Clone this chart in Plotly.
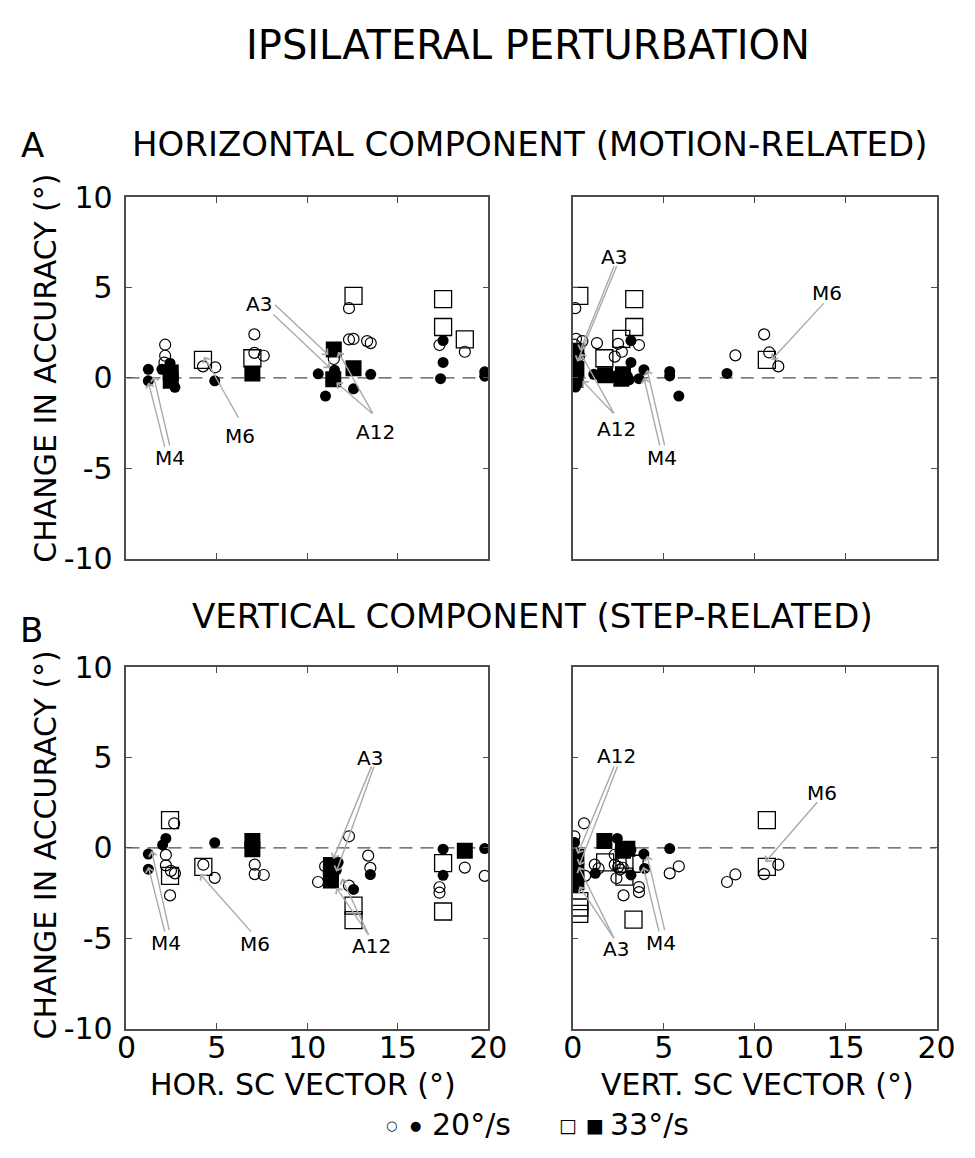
import plotly.graph_objects as go

FONT = "DejaVu Sans, Liberation Sans, Noto Sans, sans-serif"
W, H = 975, 1158

# ---------------- data ----------------
# Panel A, horizontal SC vector (left)
AH_oc_x = [2.14, 2.14, 2.1, 4.23, 4.91, 7.07, 7.07, 7.59, 11.46, 12.3, 12.3, 12.55, 13.3, 13.5, 17.3, 18.7]
AH_oc_y = [1.84, 1.23, 0.85, 0.64, 0.59, 2.41, 1.39, 1.23, 1.05, 3.86, 2.13, 2.16, 2.04, 1.93, 1.82, 1.45]
AH_fc_x = [1.21, 1.21, 1.96, 2.41, 2.23, 2.5, 2.32, 2.68, 4.88, 10.6, 11.0, 11.5, 12.55, 13.5, 17.5, 17.5, 17.36, 19.8, 19.8]
AH_fc_y = [0.48, -0.16, 0.48, 0.82, 0.38, 0.2, -0.07, -0.52, -0.16, 0.23, -1.0, 0.43, -0.6, 0.2, 2.07, 0.86, -0.04, 0.34, 0.1]
AH_os_x = [4.23, 6.96, 12.55, 17.5, 17.5, 18.7]
AH_os_y = [1.0, 1.09, 4.54, 4.36, 2.82, 2.14]
AH_fs_x = [2.45, 2.45, 6.96, 11.46, 12.55, 11.43]
AH_fs_y = [0.3, -0.15, 0.25, 1.57, 0.54, -0.07]

# Panel A, vertical SC vector (right)
AV_oc_x = [0.14, 0.18, 0.53, 1.33, 2.49, 2.7, 2.31, 3.64, 10.52, 10.8, 8.94, 11.3, 0.1, 0.35]
AV_oc_y = [3.86, 2.16, 2.04, 1.93, 1.89, 1.45, 1.18, 1.82, 2.41, 1.41, 1.25, 0.64, 1.84, 1.23]
AV_fc_x = [3.2, 3.2, 3.91, 3.64, 5.33, 5.33, 5.83, 8.48, 1.16, 1.5, 2.1, 2.4, 3.0, 3.1,
           0.1, 0.1, 0.2, 0.1, 0.3, 0.15]
AV_fc_y = [2.07, 0.86, 0.46, -0.04, 0.36, 0.11, -1.0, 0.25, 0.2, 0.15, 0.1, 0.0, 0.1, -0.1,
           1.5, 0.9, 0.5, 0.1, -0.2, -0.5]
AV_os_x = [0.36, 3.38, 3.38, 2.67, 1.74, 10.67]
AV_os_y = [4.54, 4.36, 2.82, 2.16, 1.09, 1.0]
AV_fs_x = [0.2, 0.2, 1.78, 2.67, 2.76, 0.15]
AV_fs_y = [1.5, 0.5, 0.15, -0.05, 0.2, -0.1]

# Panel B, horizontal SC vector (left)
BH_oc_x = [2.64, 2.18, 2.18, 2.46, 2.68, 2.41, 4.25, 4.88, 7.09, 7.09, 7.59, 12.3, 10.98, 10.59, 12.3, 13.36, 13.48, 18.7, 19.8, 17.3, 17.3]
BH_oc_y = [1.36, -0.39, -0.97, -1.27, -1.41, -2.63, -0.93, -1.66, -0.93, -1.45, -1.5, 0.64, -1.02, -1.89, -2.09, -0.43, -1.11, -1.09, -1.55, -2.18, -2.48]
BH_fc_x = [1.21, 1.21, 2.0, 2.18, 4.88, 17.5, 17.5, 19.8, 13.48, 12.55, 11.43, 11.43, 11.6, 11.7]
BH_fc_y = [-0.34, -1.18, 0.16, 0.52, 0.29, -0.07, -1.52, -0.04, -1.48, -2.3, -0.88, -1.77, -1.23, -0.8]
BH_os_x = [2.41, 2.41, 4.25, 12.55, 12.55, 17.5, 17.5]
BH_os_y = [1.54, -1.55, -1.05, -3.2, -4.0, -0.84, -3.52]
BH_fs_x = [6.96, 6.96, 11.3, 11.3, 11.3, 18.7]
BH_fs_y = [0.38, -0.07, -0.95, -1.4, -1.8, -0.16]

# Panel B, vertical SC vector (right)
BV_oc_x = [0.62, 0.09, 1.21, 1.42, 0.68, 2.31, 2.31, 2.5, 2.75, 2.6, 2.4, 2.79, 3.64, 3.64, 5.33, 5.83, 8.48, 8.94, 10.52, 11.3]
BV_oc_y = [1.36, 0.64, -0.93, -1.14, -1.55, -0.38, -0.93, -1.05, -1.1, -1.2, -1.68, -2.63, -2.17, -2.45, -1.41, -1.02, -1.89, -1.47, -1.45, -0.93]
BV_fc_x = [2.45, 3.2, 3.91, 3.95, 5.33, 1.24, 3.2, 2.9, 0.1, 0.2, 0.1, 0.3, 0.15, 0.2, 3.0, 2.6]
BV_fc_y = [0.52, -0.1, -0.34, -1.14, -0.04, -1.41, -1.5, -0.1, 0.3, -0.3, -0.9, -1.3, -1.8, -2.2, 0.0, -0.2]
BV_os_x = [10.67, 10.67, 1.78, 2.84, 3.4, 2.84, 3.34, 0.36, 0.36, 0.36]
BV_os_y = [1.54, -1.05, -0.8, -0.88, -0.88, -1.59, -3.97, -2.95, -3.3, -3.65]
BV_fs_x = [1.74, 2.76, 0.2, 0.2, 0.2, 3.0]
BV_fs_y = [0.38, -0.16, -0.5, -1.2, -1.9, -0.05]

# Subject labels: (panel, text, x, y)
LABELS = [
    ("AH", "A3", 7.3, 4.1), ("AH", "A12", 13.75, -3.0), ("AH", "M4", 2.41, -4.45), ("AH", "M6", 6.29, -3.2),
    ("AV", "A3", 2.28, 6.7), ("AV", "A12", 2.4, -2.83), ("AV", "M4", 4.9, -4.44), ("AV", "M6", 14.0, 4.7),
    ("BH", "A3", 13.45, 5.0), ("BH", "A12", 13.55, -5.43), ("BH", "M4", 2.18, -5.25), ("BH", "M6", 7.1, -5.3),
    ("BV", "A12", 2.4, 5.06), ("BV", "A3", 2.4, -5.6), ("BV", "M4", 4.84, -5.25), ("BV", "M6", 13.7, 3.06),
]
# Arrows: (panel, tail_x, tail_y, head_x, head_y)
ARROWS = [
    ("AH", 8.13, 4.13, 11.16, 1.27), ("AH", 8.04, 3.59, 11.25, 0.55),
    ("AH", 13.66, -2.04, 11.7, 1.45), ("AH", 13.66, -2.04, 11.6, -0.25),
    ("AH", 2.14, -3.9, 1.22, -0.25), ("AH", 2.41, -3.82, 1.5, 0.1),
    ("AH", 6.25, -2.3, 4.29, 1.18),
    ("AV", 2.31, 6.27, 0.4, 1.5), ("AV", 2.45, 6.27, 0.25, 0.9),
    ("AV", 2.31, -2.04, 0.44, 1.36), ("AV", 2.31, -2.04, 0.53, -0.16),
    ("AV", 4.8, -3.82, 3.91, 0.02), ("AV", 5.07, -3.82, 4.09, 0.46),
    ("AV", 13.87, 4.21, 10.93, 1.0),
    ("BH", 13.57, 4.58, 11.43, -0.61), ("BH", 13.71, 4.58, 11.6, -1.32),
    ("BH", 13.43, -4.9, 11.6, -2.2), ("BH", 13.43, -4.9, 11.9, -1.7),
    ("BH", 2.14, -4.72, 1.21, -1.05), ("BH", 2.38, -4.63, 1.39, -0.16),
    ("BH", 6.96, -4.72, 4.07, -1.45),
    ("BV", 2.31, 4.58, 0.27, -0.34), ("BV", 2.49, 4.58, 0.36, -0.97),
    ("BV", 2.31, -5.08, 0.36, -2.13), ("BV", 2.31, -5.08, 0.32, -1.05),
    ("BV", 4.76, -4.72, 3.88, -1.05), ("BV", 5.07, -4.63, 4.09, -0.43),
    ("BV", 13.51, 2.61, 10.58, -0.79),
]

X_TICKS = [0, 5, 10, 15, 20]
X_TICKTEXT = ["0", "5", "10", "15", "20"]
Y_TICKS = [-10, -5, 0, 5, 10]
Y_TICKTEXT = ["-10", "-5", "0", "5", "10"]
ZERO_X = [0, 20]
ZERO_Y = [0, 0]

# ---------------- figure ----------------
AX = {"AH": ("x", "y"), "AV": ("x2", "y2"), "BH": ("x3", "y3"), "BV": ("x4", "y4")}
DATA = {
    "AH": (AH_oc_x, AH_oc_y, AH_fc_x, AH_fc_y, AH_os_x, AH_os_y, AH_fs_x, AH_fs_y),
    "AV": (AV_oc_x, AV_oc_y, AV_fc_x, AV_fc_y, AV_os_x, AV_os_y, AV_fs_x, AV_fs_y),
    "BH": (BH_oc_x, BH_oc_y, BH_fc_x, BH_fc_y, BH_os_x, BH_os_y, BH_fs_x, BH_fs_y),
    "BV": (BV_oc_x, BV_oc_y, BV_fc_x, BV_fc_y, BV_os_x, BV_os_y, BV_fs_x, BV_fs_y),
}
AXC = "#4d4d4d"

fig = go.Figure()
for key, (xa, ya) in AX.items():
    oc_x, oc_y, fc_x, fc_y, os_x, os_y, fs_x, fs_y = DATA[key]
    fig.add_trace(go.Scatter(x=ZERO_X, y=ZERO_Y, mode="lines", xaxis=xa, yaxis=ya,
                             line=dict(color=AXC, width=1.3, dash="13px,8px"),
                             showlegend=False, hoverinfo="skip"))
    fig.add_trace(go.Scatter(x=fs_x, y=fs_y, mode="markers", xaxis=xa, yaxis=ya,
                             marker=dict(symbol="square", size=16, color="black"),
                             showlegend=False))
    fig.add_trace(go.Scatter(x=fc_x, y=fc_y, mode="markers", xaxis=xa, yaxis=ya,
                             marker=dict(symbol="circle", size=11, color="black"),
                             showlegend=False))
    fig.add_trace(go.Scatter(x=os_x, y=os_y, mode="markers", xaxis=xa, yaxis=ya,
                             marker=dict(symbol="square-open", size=17, color="black",
                                         line=dict(width=1.3, color="black")),
                             showlegend=False))
    fig.add_trace(go.Scatter(x=oc_x, y=oc_y, mode="markers", xaxis=xa, yaxis=ya,
                             marker=dict(symbol="circle-open", size=11, color="black",
                                         line=dict(width=1.2, color="black")),
                             showlegend=False))

LEFT = [120 / W, 493 / W]
RIGHT = [580 / W, 955 / W]
TOP = [1 - 558 / H, 1 - 185 / H]
BOT = [1 - 1043 / H, 1 - 670 / H]


def xax(domain, anchor, labels):
    return dict(domain=domain, anchor=anchor, range=[0, 20],
                tickmode="array", tickvals=X_TICKS, ticktext=X_TICKTEXT,
                ticks="inside", ticklen=6, tickwidth=1.2, tickcolor=AXC,
                showline=True, linecolor=AXC, linewidth=1.5, mirror="ticks",
                showgrid=False, zeroline=False, showticklabels=labels,
                ticklabelstandoff=-8,
                tickfont=dict(family=FONT, size=30, color="black"))


def yax(domain, anchor, labels):
    return dict(domain=domain, anchor=anchor, range=[-10, 10],
                tickmode="array", tickvals=Y_TICKS, ticktext=Y_TICKTEXT,
                ticks="inside", ticklen=6, tickwidth=1.2, tickcolor=AXC,
                showline=True, linecolor=AXC, linewidth=1.5, mirror="ticks",
                showgrid=False, zeroline=False, showticklabels=labels,
                ticklabelstandoff=6,
                tickfont=dict(family=FONT, size=30, color="black"))


fig.update_layout(
    width=W, height=H, autosize=False,
    margin=dict(l=0, r=0, t=0, b=0),
    paper_bgcolor="white", plot_bgcolor="white",
    font=dict(family=FONT, color="black"),
    hovermode=False,
    xaxis=xax(LEFT, "y", False), yaxis=yax(TOP, "x", True),
    xaxis2=xax(RIGHT, "y2", False), yaxis2=yax(TOP, "x2", False),
    xaxis3=xax(LEFT, "y3", True), yaxis3=yax(BOT, "x3", True),
    xaxis4=xax(RIGHT, "y4", True), yaxis4=yax(BOT, "x4", False),
)

anns = []
for key, txt, lx, ly in LABELS:
    xa, ya = AX[key]
    anns.append(dict(x=lx, y=ly, xref=xa, yref=ya, text=txt, showarrow=False,
                     font=dict(family=FONT, size=20, color="black")))
for key, tx, ty, hx, hy in ARROWS:
    xa, ya = AX[key]
    anns.append(dict(x=hx, y=hy, xref=xa, yref=ya, ax=tx, ay=ty, axref=xa, ayref=ya,
                     text="", showarrow=True, arrowhead=4, arrowsize=1.1, arrowwidth=1.4,
                     arrowcolor="#aaaaaa", standoff=0, startstandoff=0))


def ptxt(text, px, py, size, xanchor="center", angle=0):
    anns.append(dict(x=px / W, y=1 - py / H, xref="paper", yref="paper", text=text,
                     showarrow=False, xanchor=xanchor, yanchor="middle", textangle=angle,
                     font=dict(family=FONT, size=size, color="black")))


ptxt("IPSILATERAL PERTURBATION", 534, 28, 40)
ptxt("A", 23, 131, 34)
ptxt("HORIZONTAL COMPONENT (MOTION-RELATED)", 535, 130, 34)
ptxt("B", 22, 632, 34)
ptxt("VERTICAL COMPONENT (STEP-RELATED)", 539, 617, 34)
ptxt("CHANGE IN ACCURACY (°)", 37, 361, 30, angle=-90)
ptxt("CHANGE IN ACCURACY (°)", 37, 853, 30, angle=-90)
ptxt("HOR. SC VECTOR (°)", 302, 1101, 30)
ptxt("VERT. SC VECTOR (°)", 770, 1101, 30)
# legend
ptxt("○", 393, 1143, 13)
ptxt("●", 418, 1143, 13)
ptxt("20°/s", 433, 1142, 30, xanchor="left")
ptxt("□", 575, 1143, 19)
ptxt("■", 603, 1143, 19)
ptxt("33°/s", 616, 1142, 30, xanchor="left")

fig.update_layout(annotations=anns)
fig.write_html("out.html", config={"displayModeBar": False},
               post_script="document.body.style.margin='0px';")
